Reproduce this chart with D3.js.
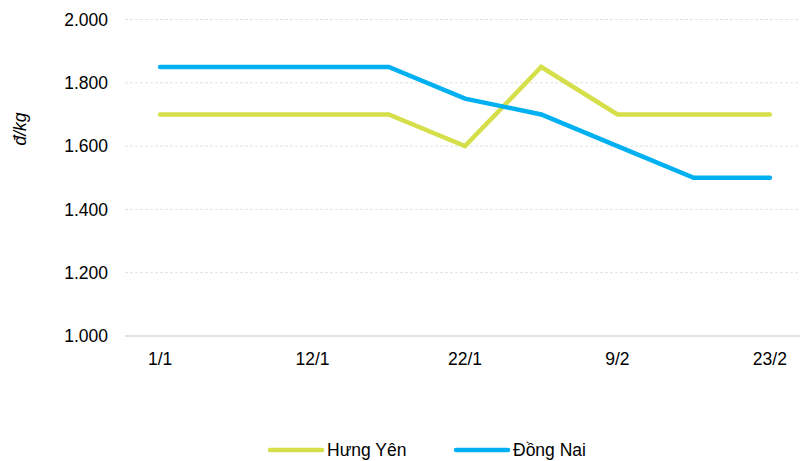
<!DOCTYPE html>
<html>
<head>
<meta charset="utf-8">
<title>Giá</title>
<script src="https://d3js.org/d3.v7.min.js"></script>
<style>
  body { margin: 0; background: #fff; }
  text { font-family: "Liberation Sans", Arial, sans-serif; fill: #000; }
</style>
</head>
<body>
<div id="chart"></div>
<script>
// data
var categories = ["1/1", "5/1", "12/1", "17/1", "22/1", "2/2", "9/2", "16/2", "23/2"];
var shownLabels = ["1/1", "12/1", "22/1", "9/2", "23/2"];
var hungYen = [1700, 1700, 1700, 1700, 1600, 1850, 1700, 1700, 1700];
var dongNai = [1850, 1850, 1850, 1850, 1750, 1700, 1600, 1500, 1500];
var yTicks = [1000, 1200, 1400, 1600, 1800, 2000];

var series = [
  { name: "Hưng Yên", values: hungYen, color: "#D4DF4A" },
  { name: "Đồng Nai", values: dongNai, color: "#00B0F0" }
];

var width = 803, height = 461;
var plotLeft = 122, plotRight = 808, plotTop = 19.5, plotBottom = 336;
var fontSize = "17.5px";

var svg = d3.select("#chart").append("svg")
    .attr("width", width)
    .attr("height", height);

var x = d3.scalePoint()
    .domain(categories)
    .range([plotLeft, plotRight])
    .padding(0.5);

var y = d3.scaleLinear()
    .domain([1000, 2000])
    .range([plotBottom, plotTop]);

var fmt = function(d) { return d3.format(".3f")(d / 1000); };

// gridlines
svg.append("g")
    .selectAll("line")
    .data(yTicks.filter(function(d) { return d > 1000; }))
    .enter().append("line")
    .attr("x1", 125).attr("x2", 800)
    .attr("y1", function(d) { return y(d); })
    .attr("y2", function(d) { return y(d); })
    .attr("stroke", "#e2e2e2")
    .attr("stroke-dasharray", "3,2")
    .attr("stroke-width", 1);

// x axis line
svg.append("line")
    .attr("x1", 125).attr("x2", 800)
    .attr("y1", y(1000)).attr("y2", y(1000))
    .attr("stroke", "#d9d9d9")
    .attr("stroke-width", 1.5);

// y labels
svg.append("g")
    .selectAll("text")
    .data(yTicks)
    .enter().append("text")
    .attr("x", 108)
    .attr("y", function(d) { return y(d); })
    .attr("dy", "0.35em")
    .attr("text-anchor", "end")
    .style("font-size", fontSize)
    .text(fmt);

// x labels
svg.append("g")
    .selectAll("text")
    .data(shownLabels)
    .enter().append("text")
    .attr("x", function(d) { return x(d); })
    .attr("y", 365)
    .attr("text-anchor", "middle")
    .style("font-size", fontSize)
    .text(function(d) { return d; });

// axis title
svg.append("text")
    .attr("transform", "translate(26,129) rotate(-90)")
    .attr("text-anchor", "middle")
    .style("font-size", fontSize)
    .style("font-style", "italic")
    .text("đ/kg");

// lines
var line = d3.line()
    .x(function(d, i) { return x(categories[i]); })
    .y(function(d) { return y(d); });

svg.selectAll(".series")
    .data(series)
    .enter().append("path")
    .attr("class", "series")
    .attr("d", function(s) { return line(s.values); })
    .attr("fill", "none")
    .attr("stroke", function(s) { return s.color; })
    .attr("stroke-width", 4.5)
    .attr("stroke-linecap", "round")
    .attr("stroke-linejoin", "miter");

// legend
var legendX = [270, 456];
var lg = svg.selectAll(".legend")
    .data(series)
    .enter().append("g")
    .attr("class", "legend")
    .attr("transform", function(d, i) { return "translate(" + legendX[i] + ",450)"; });

lg.append("line")
    .attr("x1", 0).attr("x2", 52)
    .attr("y1", 0).attr("y2", 0)
    .attr("stroke", function(d) { return d.color; })
    .attr("stroke-width", 4.5)
    .attr("stroke-linecap", "round");

lg.append("text")
    .attr("x", 57)
    .attr("y", 0)
    .attr("dy", "0.35em")
    .style("font-size", fontSize)
    .text(function(d) { return d.name; });
</script>
</body>
</html>
